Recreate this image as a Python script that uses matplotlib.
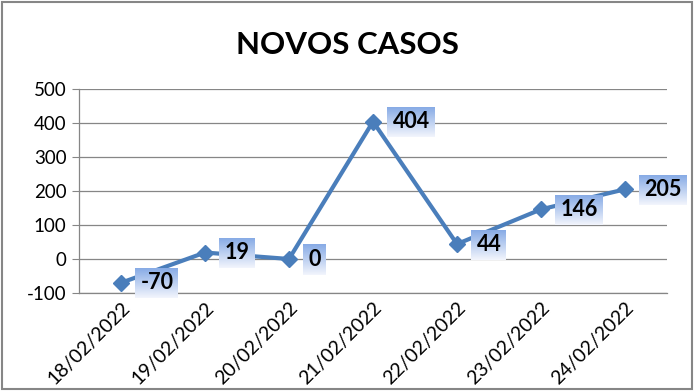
import matplotlib

matplotlib.use("Agg")
import matplotlib.pyplot as plt
import numpy as np
from matplotlib.patches import Rectangle

dates = ["18/02/2022", "19/02/2022", "20/02/2022", "21/02/2022",
         "22/02/2022", "23/02/2022", "24/02/2022"]
novos_casos = [-70, 19, 0, 404, 44, 146, 205]
y_ticks = [-100, 0, 100, 200, 300, 400, 500]

plt.rcParams["font.family"] = ["Lato", "DejaVu Sans"]

line_color = "#4a7ebb"
grid_color = "#868686"

fig = plt.figure(figsize=(6.94, 3.91), dpi=100)
ax = fig.add_axes([79 / 694, 1 - 293 / 391, (667 - 79) / 694, (293 - 89) / 391])

x = np.arange(len(dates))
ax.plot(x, novos_casos, color=line_color, linewidth=3, marker="D",
        markersize=8, zorder=3)

ax.set_xlim(-0.5, len(dates) - 0.5)
ax.set_ylim(y_ticks[0], y_ticks[-1])
ax.set_yticks(y_ticks)
ax.set_yticklabels([str(v) for v in y_ticks], fontsize=13.5)
ax.set_xticks(x)
ax.set_xticklabels(dates, rotation=45, ha="right", va="top",
                   rotation_mode="anchor", fontsize=14)
ax.tick_params(axis="x", length=0, pad=4)
ax.tick_params(axis="y", length=5, color=grid_color, pad=4)
ax.grid(True, axis="y", color=grid_color, linewidth=0.9)
ax.set_axisbelow(True)
for side in ("top", "right"):
    ax.spines[side].set_visible(False)
for side in ("left", "bottom"):
    ax.spines[side].set_color(grid_color)
    ax.spines[side].set_linewidth(0.9)

labels = []
for xi, yi in zip(x, novos_casos):
    t = ax.annotate(str(yi), xy=(xi, yi), xytext=(14, 0), textcoords="offset points",
                    ha="left", va="center", fontsize=15.5, fontweight="bold",
                    color="black", zorder=6)
    labels.append(t)

# gradient boxes behind the data labels
fig.canvas.draw()
renderer = fig.canvas.get_renderer()
grad = np.linspace(0, 1, 64)[:, None]
top = np.array([0.53, 0.67, 0.90])
bot = np.array([0.95, 0.96, 0.99])
img = top[None, None, :] * (1 - grad[:, :, None]) + bot[None, None, :] * grad[:, :, None]
inv = ax.transData.inverted()
for t in labels:
    bb = t.get_window_extent(renderer)
    x0, y0 = inv.transform((bb.x0 - 5, bb.y0 - 5))
    x1, y1 = inv.transform((bb.x1 + 5, bb.y1 + 4))
    ax.imshow(img, extent=(x0, x1, y0, y1), aspect="auto", origin="upper",
              zorder=5, clip_on=False)
ax.set_xlim(-0.5, len(dates) - 0.5)
ax.set_ylim(y_ticks[0], y_ticks[-1])

fig.text(0.5, 1 - 45 / 391, "NOVOS CASOS", ha="center", va="center",
         fontsize=22.5, fontweight="bold")
fig.patches.append(Rectangle((0.003, 0.005), 0.994, 0.99, transform=fig.transFigure,
                             fill=False, edgecolor=grid_color, linewidth=1.5))

fig.savefig("out.png", dpi=100)
